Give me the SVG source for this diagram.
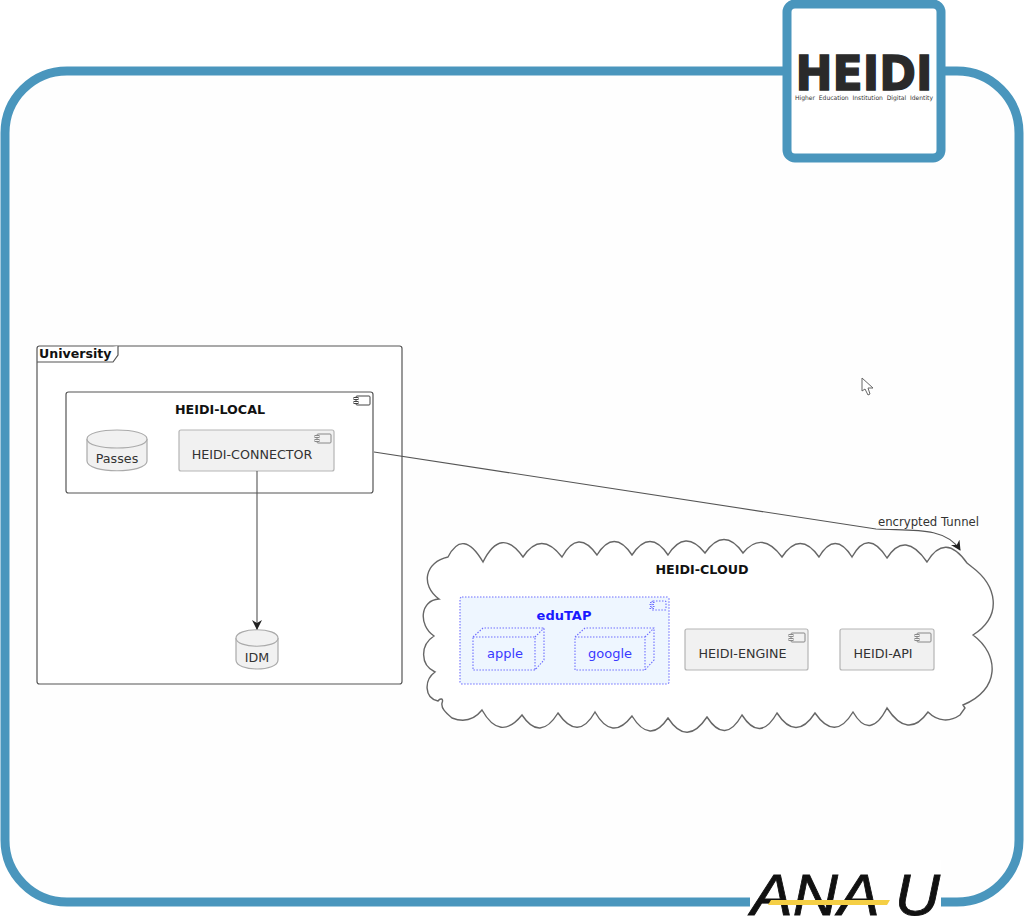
<svg xmlns="http://www.w3.org/2000/svg" width="1024" height="917" viewBox="0 0 1024 917">
<defs>
<style>
text{font-family:"DejaVu Sans","Liberation Sans",sans-serif;}
.frame{fill:#fefefe;stroke:#4a96bd;stroke-width:9;}
.comp{fill:#f1f1f1;stroke:#b5b5b5;stroke-width:1.2;}
.cont{fill:#fff;stroke:#555;stroke-width:1.2;}
.ico{fill:#f1f1f1;stroke:#888;stroke-width:1;}
.ico2{fill:#fff;stroke:#444;stroke-width:1;}
.db{fill:#f1f1f1;stroke:#aaa;stroke-width:1.2;}
.lbl{font-size:12.7px;fill:#333;text-anchor:middle;}
.ttl{font-size:12.7px;font-weight:bold;fill:#111;text-anchor:middle;}
.dot{fill:none;stroke:#6f6fff;stroke-width:1.1;stroke-dasharray:1.5 1.5;}
.blue{font-size:13px;fill:#3a3aff;text-anchor:middle;}
.line{fill:none;stroke:#555;stroke-width:1.1;}
</style>
<marker id="arr" markerWidth="12" markerHeight="12" refX="9" refY="5" orient="auto" markerUnits="userSpaceOnUse"><path d="M0,0 L10,5 L0,10 L3,5 Z" fill="#222"/></marker>
<symbol id="i" overflow="visible"><rect x="2" y="0" width="14" height="9" rx="1"/><rect x="0" y="1.5" width="4" height="2"/><rect x="0" y="5.5" width="4" height="2"/></symbol>
</defs>
<rect width="1024" height="917" fill="#fff"/>
<g id="frame">
<rect class="frame" x="5" y="71" width="1014" height="831" rx="62"/>
<rect x="750" y="860" width="191" height="57" fill="#fff"/>
</g>
<g id="heidi-logo">
<rect class="frame" style="fill:#fff" x="787" y="4" width="154" height="154" rx="8"/>
<text x="795.5" y="89.5" font-size="48" font-weight="bold" fill="#2a2a2a" stroke="#2a2a2a" stroke-width="1.4" textLength="137" lengthAdjust="spacingAndGlyphs">HEIDI</text>
<text x="795" y="100" font-size="6.2" fill="#333" word-spacing="2" textLength="138" lengthAdjust="spacingAndGlyphs">Higher Education Institution Digital Identity</text>
</g>
<g id="anau-logo">
<text x="751" y="915" font-size="58" font-style="italic" fill="#111" stroke="#111" stroke-width="0.8" style="font-family:'Liberation Sans',sans-serif" textLength="189" lengthAdjust="spacingAndGlyphs">ANA U</text>
<path d="M771 900H890L887 905H768Z" fill="#f5cf45"/>
</g>
<g id="university">
<rect class="cont" x="37" y="346" width="365" height="338" rx="2.5"/>
<path class="cont" d="M37 362H113L118 355V346"/>
<text x="39" y="358" font-size="12.6" font-weight="bold" fill="#111">University</text>
</g>
<g id="heidi-local">
<rect class="cont" x="66" y="392" width="307" height="101" rx="2.5"/>
<text class="ttl" x="220" y="414">HEIDI-LOCAL</text>
<use href="#i" x="354" y="396" class="ico2"/>
</g>
<g id="passes">
<path class="db" d="M87 439C87 427 147 427 147 439V461C147 474 87 474 87 461Z"/>
<path class="db" d="M87 439C87 451 147 451 147 439"/>
<text class="lbl" x="117" y="463">Passes</text>
</g>
<g id="heidi-connector">
<rect class="comp" x="179" y="430" width="155" height="41" rx="2"/>
<use href="#i" x="315" y="434" class="ico"/>
<text class="lbl" x="252" y="459">HEIDI-CONNECTOR</text>
</g>
<g id="idm">
<path class="db" d="M236 638C236 627 278 627 278 638V660C278 672 236 672 236 660Z"/>
<path class="db" d="M236 638C236 649 278 649 278 638"/>
<text class="lbl" x="257" y="662">IDM</text>
</g>
<g id="heidi-cloud">
<path d="M448 557Q463 528 483 562Q501 526 523 557Q541 530 562 557Q578 528 597 555Q614 528 632 555Q650 528 668 555Q685 528 705 553Q724 526 743 553Q762 530 782 557Q800 530 819 557Q835 530 852 557Q868 528 887 558Q905 530 927 562Q945 532 967 563L972 567C996 585 1004 615 973 635C1000 655 1000 690 963 705L965 708L960 715C950 722 938 722 928 712Q908 740 887 708Q870 741 853 712Q835 742 815 713Q796 742 777 713Q760 743 742 715Q725 745 707 717Q687 747 668 718Q650 745 632 716Q612 742 595 712Q578 742 558 713Q540 742 522 715Q500 742 482 710Q470 725 452 718C445 712 441 708 442 703C444 698 440 698 438 701C424 698 424 680 435 672C420 665 420 645 434 636C418 625 420 600 439 599C420 585 425 562 448 557Z" fill="#fff" stroke="#666" stroke-width="1.4"/>
<text class="ttl" x="702" y="574">HEIDI-CLOUD</text>
</g>
<g id="edutap">
<rect x="460" y="597" width="209" height="87" rx="2" fill="#eef6ff" stroke="#6f6fff" stroke-width="1.1" stroke-dasharray="1.5 1.5"/>
<use href="#i" x="650" y="601" class="dot"/>
<text x="564" y="620" font-size="13" font-weight="bold" fill="#1a1aff" text-anchor="middle">eduTAP</text>
</g>
<g id="apple">
<path class="dot" d="M473 637L483 628H544V660L535 670H473ZM473 637H535V670M535 637L544 628"/>
<text class="blue" x="505" y="658">apple</text>
</g>
<g id="google">
<path class="dot" d="M575 637L585 628H654V660L645 670H575ZM575 637H645V670M645 637L654 628"/>
<text class="blue" x="610" y="658">google</text>
</g>
<g id="heidi-engine">
<rect class="comp" x="685" y="629" width="123" height="41" rx="2"/>
<use href="#i" x="789" y="633" class="ico"/>
<text class="lbl" x="742.5" y="658">HEIDI-ENGINE</text>
</g>
<g id="heidi-api">
<rect class="comp" x="840" y="629" width="94" height="41" rx="2"/>
<use href="#i" x="915" y="633" class="ico"/>
<text class="lbl" x="883" y="658">HEIDI-API</text>
</g>
<g id="connectors">
<path class="line" d="M257 471V629" marker-end="url(#arr)"/>
<path class="line" d="M374 452L876 529C910 531 945 526 960 550" marker-end="url(#arr)"/>
<text x="928.5" y="526" font-size="11.7" fill="#333" text-anchor="middle">encrypted Tunnel</text>
</g>
<path id="cursor" d="M862 378V391L865 389L868 395L870 394L868 388L873 388Z" fill="#fff" stroke="#666" stroke-width="1"/>
</svg>
